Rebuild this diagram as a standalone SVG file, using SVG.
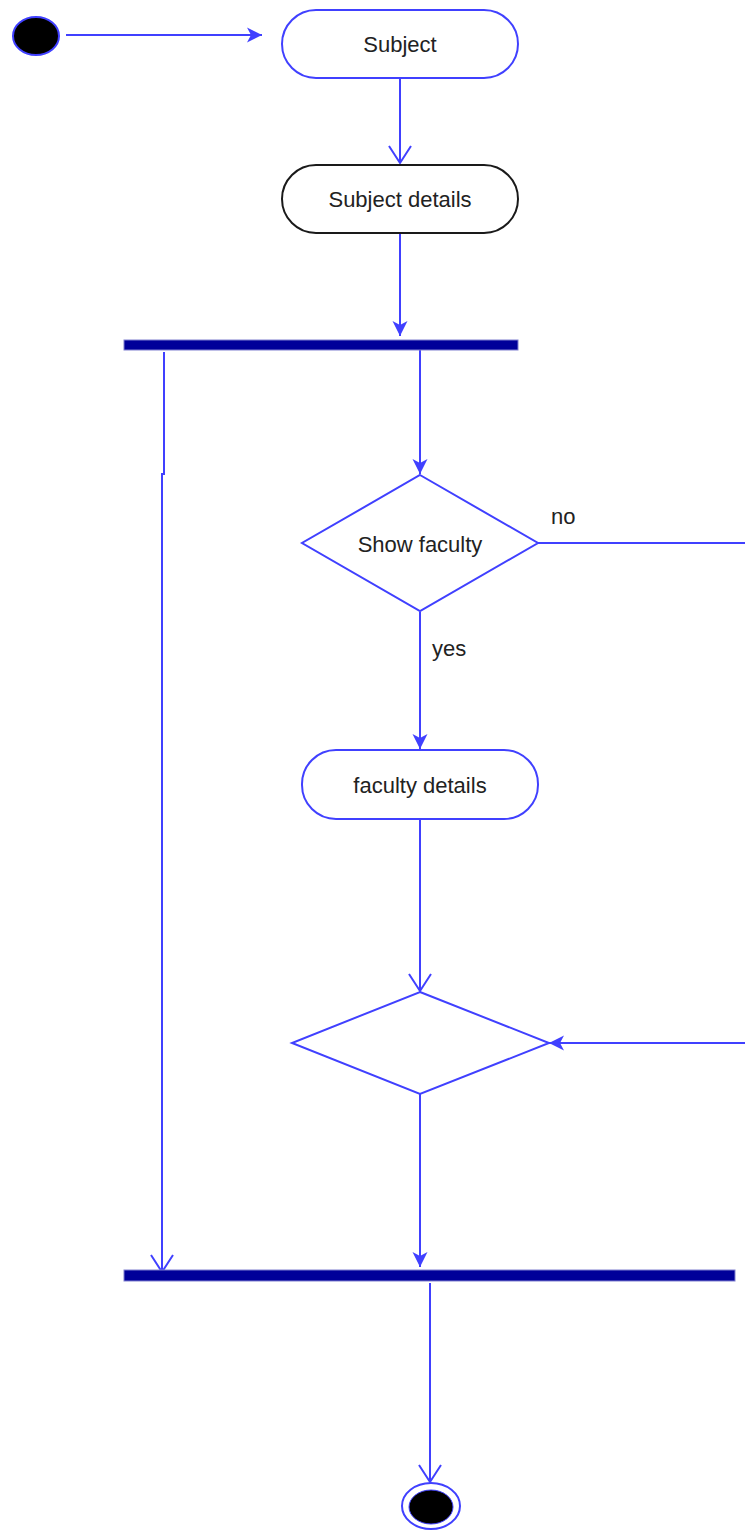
<svg xmlns="http://www.w3.org/2000/svg" width="745" height="1530" viewBox="0 0 745 1530">
  <style>
    .edge { fill: none; stroke: #4040ff; stroke-width: 2; }
    .act { fill: #ffffff; stroke: #4040ff; stroke-width: 2; }
    .act-dark { fill: #ffffff; stroke: #1a1a1a; stroke-width: 2; }
    .bar { fill: #000099; stroke: #8080d0; stroke-width: 1; }
    .lbl { font-family: "Liberation Sans", Arial, sans-serif; font-size: 22px; fill: #222222; }
    .mid { text-anchor: middle; }
  </style>
  <defs>
    <marker id="arrow-filled" markerUnits="userSpaceOnUse" viewBox="0 0 16 16" markerWidth="16" markerHeight="16" refX="15" refY="8" orient="auto">
      <path d="M0,0.5 L15,8 L0,15.5 L4,8 Z" fill="#4040ff"/>
    </marker>
    <marker id="arrow-open" markerUnits="userSpaceOnUse" viewBox="0 0 20 24" markerWidth="20" markerHeight="24" refX="18" refY="12" orient="auto">
      <path d="M1,1 L18,12 L1,23" fill="none" stroke="#4040ff" stroke-width="2"/>
    </marker>
  </defs>

  <!-- connectors -->
  <g id="edges">
    <path class="edge" d="M66,35 H262" marker-end="url(#arrow-filled)"/>
    <path class="edge" d="M400,78 V163" marker-end="url(#arrow-open)"/>
    <path class="edge" d="M400,233 V336" marker-end="url(#arrow-filled)"/>
    <path class="edge" d="M164,352 V474 H162 V1272" marker-end="url(#arrow-open)"/>
    <path class="edge" d="M420,350 V474" marker-end="url(#arrow-filled)"/>
    <path class="edge" d="M538,543 H760 V1043 H549" marker-end="url(#arrow-filled)"/>
    <path class="edge" d="M420,612 V749" marker-end="url(#arrow-filled)"/>
    <path class="edge" d="M420,819 V991" marker-end="url(#arrow-open)"/>
    <path class="edge" d="M420,1094 V1267" marker-end="url(#arrow-filled)"/>
    <path class="edge" d="M430,1283 V1482" marker-end="url(#arrow-open)"/>
    <text class="lbl" x="551" y="524">no</text>
    <text class="lbl" x="432" y="656">yes</text>
  </g>

  <g id="start">
    <ellipse cx="36" cy="36" rx="23" ry="19" fill="#000000" stroke="#4040ff" stroke-width="2"/>
  </g>

  <g id="subject">
    <rect class="act" x="282" y="10" width="236" height="68" rx="34" ry="34"/>
    <text class="lbl mid" x="400" y="52">Subject</text>
  </g>

  <g id="subject-details">
    <rect class="act-dark" x="282" y="165" width="236" height="68" rx="34" ry="34"/>
    <text class="lbl mid" x="400" y="207">Subject details</text>
  </g>

  <g id="fork">
    <rect class="bar" x="124" y="340" width="394" height="10"/>
  </g>

  <g id="show-faculty">
    <polygon class="act" points="420,475 538,543 420,611 302,543"/>
    <text class="lbl mid" x="420" y="552">Show faculty</text>
  </g>

  <g id="faculty-details">
    <rect class="act" x="302" y="750" width="236" height="69" rx="34" ry="34"/>
    <text class="lbl mid" x="420" y="793">faculty details</text>
  </g>

  <g id="merge">
    <polygon class="act" points="420,992 549,1043 420,1094 292,1043"/>
  </g>

  <g id="join">
    <rect class="bar" x="124" y="1270" width="611" height="11"/>
  </g>

  <g id="end">
    <ellipse cx="431" cy="1506" rx="29" ry="23" fill="#ffffff" stroke="#4040ff" stroke-width="2"/>
    <ellipse cx="431" cy="1507" rx="22" ry="17" fill="#000000" stroke="#4040ff" stroke-width="1"/>
  </g>
</svg>
